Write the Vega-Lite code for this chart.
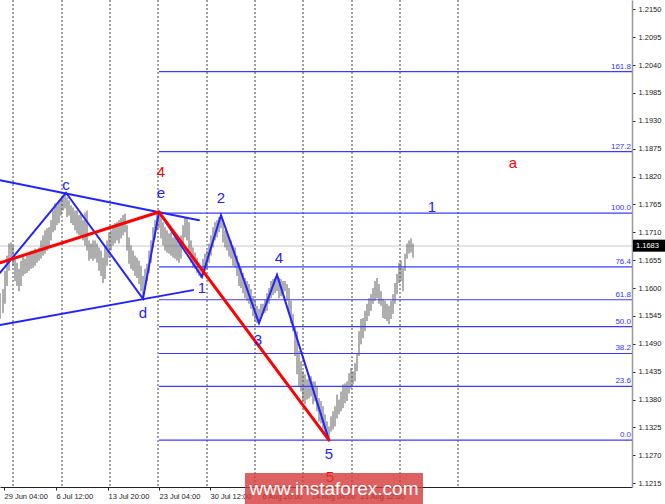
{
  "$schema": "https://vega.github.io/schema/vega-lite/v6.json",
  "width": 632,
  "height": 487,
  "autosize": {"type": "none"},
  "padding": {"left": 0, "top": 0, "right": 33, "bottom": 17},
  "background": "white",
  "config": {
    "view": {"stroke": null},
    "font": "Liberation Sans",
    "axis": {"labelOverlap": false, "labelBound": false, "labelFlush": false, "grid": false}
  },
  "datasets": {
    "bars": [
      {"t":0,"h":1.1590,"l":1.1539},{"t":3,"h":1.1598,"l":1.1551},{"t":5,"h":1.1634,"l":1.1569},{"t":7,"h":1.1664,"l":1.1604},
      {"t":9,"h":1.1688,"l":1.1634},{"t":11,"h":1.1690,"l":1.1658},{"t":13,"h":1.1684,"l":1.1644},{"t":15,"h":1.1660,"l":1.1614},
      {"t":17,"h":1.1650,"l":1.1604},{"t":19,"h":1.1638,"l":1.1594},{"t":21,"h":1.1654,"l":1.1604},{"t":23,"h":1.1664,"l":1.1624},
      {"t":25,"h":1.1658,"l":1.1628},{"t":27,"h":1.1664,"l":1.1630},{"t":29,"h":1.1670,"l":1.1634},{"t":31,"h":1.1674,"l":1.1638},
      {"t":33,"h":1.1674,"l":1.1640},{"t":35,"h":1.1678,"l":1.1644},{"t":37,"h":1.1674,"l":1.1650},{"t":39,"h":1.1680,"l":1.1654},
      {"t":41,"h":1.1694,"l":1.1658},{"t":43,"h":1.1704,"l":1.1664},{"t":45,"h":1.1714,"l":1.1668},{"t":47,"h":1.1718,"l":1.1674},
      {"t":49,"h":1.1720,"l":1.1680},{"t":51,"h":1.1734,"l":1.1694},{"t":53,"h":1.1753,"l":1.1710},{"t":55,"h":1.1767,"l":1.1714},
      {"t":57,"h":1.1763,"l":1.1724},{"t":59,"h":1.1773,"l":1.1728},{"t":61,"h":1.1777,"l":1.1743},{"t":63,"h":1.1783,"l":1.1753},
      {"t":65,"h":1.1787,"l":1.1757},{"t":67,"h":1.1779,"l":1.1740},{"t":69,"h":1.1773,"l":1.1743},{"t":71,"h":1.1763,"l":1.1728},
      {"t":73,"h":1.1759,"l":1.1724},{"t":75,"h":1.1753,"l":1.1714},{"t":77,"h":1.1753,"l":1.1708},{"t":79,"h":1.1744,"l":1.1704},
      {"t":81,"h":1.1747,"l":1.1700},{"t":83,"h":1.1734,"l":1.1694},{"t":85,"h":1.1749,"l":1.1684},{"t":87,"h":1.1753,"l":1.1674},
      {"t":89,"h":1.1694,"l":1.1654},{"t":91,"h":1.1688,"l":1.1658},{"t":93,"h":1.1694,"l":1.1654},{"t":95,"h":1.1694,"l":1.1658},
      {"t":97,"h":1.1688,"l":1.1650},{"t":99,"h":1.1680,"l":1.1634},{"t":101,"h":1.1674,"l":1.1624},{"t":103,"h":1.1660,"l":1.1610},
      {"t":105,"h":1.1684,"l":1.1618},{"t":107,"h":1.1694,"l":1.1644},{"t":109,"h":1.1710,"l":1.1660},{"t":111,"h":1.1714,"l":1.1674},
      {"t":113,"h":1.1724,"l":1.1684},{"t":115,"h":1.1728,"l":1.1688},{"t":117,"h":1.1730,"l":1.1694},{"t":119,"h":1.1734,"l":1.1688},
      {"t":121,"h":1.1738,"l":1.1698},{"t":123,"h":1.1744,"l":1.1704},{"t":125,"h":1.1747,"l":1.1710},{"t":127,"h":1.1724,"l":1.1674},
      {"t":129,"h":1.1700,"l":1.1648},{"t":131,"h":1.1684,"l":1.1638},{"t":133,"h":1.1674,"l":1.1634},{"t":135,"h":1.1664,"l":1.1624},
      {"t":137,"h":1.1660,"l":1.1620},{"t":139,"h":1.1654,"l":1.1608},{"t":141,"h":1.1644,"l":1.1594},{"t":143,"h":1.1624,"l":1.1578},
      {"t":145,"h":1.1638,"l":1.1598},{"t":147,"h":1.1648,"l":1.1614},{"t":149,"h":1.1674,"l":1.1630},{"t":151,"h":1.1694,"l":1.1650},
      {"t":153,"h":1.1720,"l":1.1680},{"t":155,"h":1.1734,"l":1.1698},{"t":157,"h":1.1747,"l":1.1714},{"t":159,"h":1.1749,"l":1.1718},
      {"t":161,"h":1.1744,"l":1.1698},{"t":163,"h":1.1730,"l":1.1684},{"t":165,"h":1.1720,"l":1.1674},{"t":167,"h":1.1714,"l":1.1670},
      {"t":169,"h":1.1708,"l":1.1668},{"t":171,"h":1.1710,"l":1.1664},{"t":173,"h":1.1700,"l":1.1660},{"t":175,"h":1.1700,"l":1.1658},
      {"t":177,"h":1.1694,"l":1.1654},{"t":179,"h":1.1688,"l":1.1650},{"t":181,"h":1.1704,"l":1.1658},{"t":183,"h":1.1724,"l":1.1684},
      {"t":185,"h":1.1740,"l":1.1700},{"t":187,"h":1.1738,"l":1.1694},{"t":189,"h":1.1730,"l":1.1674},{"t":191,"h":1.1694,"l":1.1650},
      {"t":193,"h":1.1680,"l":1.1640},{"t":195,"h":1.1670,"l":1.1638},{"t":197,"h":1.1660,"l":1.1630},{"t":199,"h":1.1650,"l":1.1624},
      {"t":201,"h":1.1644,"l":1.1620},{"t":203,"h":1.1658,"l":1.1626},{"t":205,"h":1.1668,"l":1.1634},{"t":207,"h":1.1674,"l":1.1638},
      {"t":209,"h":1.1688,"l":1.1650},{"t":211,"h":1.1704,"l":1.1664},{"t":213,"h":1.1720,"l":1.1680},{"t":215,"h":1.1730,"l":1.1694},
      {"t":217,"h":1.1734,"l":1.1700},{"t":219,"h":1.1740,"l":1.1710},{"t":221,"h":1.1744,"l":1.1718},{"t":223,"h":1.1730,"l":1.1690},
      {"t":225,"h":1.1714,"l":1.1680},{"t":227,"h":1.1708,"l":1.1674},{"t":229,"h":1.1698,"l":1.1662},{"t":231,"h":1.1694,"l":1.1658},
      {"t":233,"h":1.1684,"l":1.1644},{"t":235,"h":1.1680,"l":1.1640},{"t":237,"h":1.1664,"l":1.1624},{"t":239,"h":1.1650,"l":1.1604},
      {"t":241,"h":1.1640,"l":1.1600},{"t":243,"h":1.1630,"l":1.1590},{"t":245,"h":1.1620,"l":1.1580},{"t":247,"h":1.1614,"l":1.1575},
      {"t":249,"h":1.1608,"l":1.1569},{"t":251,"h":1.1598,"l":1.1559},{"t":253,"h":1.1584,"l":1.1545},{"t":255,"h":1.1575,"l":1.1535},
      {"t":257,"h":1.1565,"l":1.1531},{"t":259,"h":1.1559,"l":1.1529},{"t":261,"h":1.1569,"l":1.1545},{"t":263,"h":1.1569,"l":1.1549},
      {"t":265,"h":1.1578,"l":1.1551},{"t":267,"h":1.1590,"l":1.1555},{"t":269,"h":1.1600,"l":1.1569},{"t":271,"h":1.1614,"l":1.1580},
      {"t":273,"h":1.1618,"l":1.1586},{"t":275,"h":1.1620,"l":1.1590},{"t":277,"h":1.1624,"l":1.1594},{"t":279,"h":1.1620,"l":1.1580},
      {"t":281,"h":1.1618,"l":1.1584},{"t":283,"h":1.1614,"l":1.1590},{"t":285,"h":1.1614,"l":1.1594},{"t":287,"h":1.1608,"l":1.1575},
      {"t":289,"h":1.1600,"l":1.1549},{"t":291,"h":1.1575,"l":1.1531},{"t":293,"h":1.1549,"l":1.1515},{"t":295,"h":1.1525,"l":1.1466},
      {"t":297,"h":1.1515,"l":1.1430},{"t":299,"h":1.1476,"l":1.1406},{"t":301,"h":1.1456,"l":1.1396},{"t":303,"h":1.1436,"l":1.1377},
      {"t":305,"h":1.1430,"l":1.1371},{"t":307,"h":1.1420,"l":1.1380},{"t":309,"h":1.1422,"l":1.1382},{"t":311,"h":1.1426,"l":1.1386},
      {"t":313,"h":1.1416,"l":1.1371},{"t":315,"h":1.1416,"l":1.1377},{"t":317,"h":1.1406,"l":1.1357},{"t":319,"h":1.1383,"l":1.1337},
      {"t":321,"h":1.1377,"l":1.1333},{"t":323,"h":1.1367,"l":1.1321},{"t":325,"h":1.1351,"l":1.1311},{"t":327,"h":1.1337,"l":1.1303},
      {"t":329,"h":1.1327,"l":1.1300},{"t":331,"h":1.1347,"l":1.1317},{"t":333,"h":1.1357,"l":1.1321},{"t":335,"h":1.1367,"l":1.1327},
      {"t":337,"h":1.1390,"l":1.1343},{"t":339,"h":1.1380,"l":1.1351},{"t":341,"h":1.1396,"l":1.1357},{"t":343,"h":1.1410,"l":1.1363},
      {"t":345,"h":1.1412,"l":1.1373},{"t":347,"h":1.1416,"l":1.1377},{"t":349,"h":1.1432,"l":1.1392},{"t":351,"h":1.1442,"l":1.1402},
      {"t":353,"h":1.1436,"l":1.1410},{"t":355,"h":1.1452,"l":1.1416},{"t":357,"h":1.1470,"l":1.1436},{"t":359,"h":1.1515,"l":1.1466},
      {"t":361,"h":1.1539,"l":1.1489},{"t":363,"h":1.1541,"l":1.1501},{"t":365,"h":1.1555,"l":1.1515},{"t":367,"h":1.1569,"l":1.1535},
      {"t":369,"h":1.1580,"l":1.1545},{"t":371,"h":1.1588,"l":1.1555},{"t":373,"h":1.1600,"l":1.1569},{"t":375,"h":1.1614,"l":1.1575},
      {"t":377,"h":1.1620,"l":1.1580},{"t":379,"h":1.1608,"l":1.1569},{"t":381,"h":1.1594,"l":1.1565},{"t":383,"h":1.1578,"l":1.1541},
      {"t":385,"h":1.1575,"l":1.1539},{"t":387,"h":1.1569,"l":1.1535},{"t":389,"h":1.1565,"l":1.1529},{"t":391,"h":1.1575,"l":1.1539},
      {"t":393,"h":1.1588,"l":1.1549},{"t":395,"h":1.1610,"l":1.1569},{"t":397,"h":1.1628,"l":1.1588},{"t":399,"h":1.1650,"l":1.1610},
      {"t":401,"h":1.1654,"l":1.1614},{"t":403,"h":1.1640,"l":1.1594},{"t":405,"h":1.1668,"l":1.1634},{"t":407,"h":1.1688,"l":1.1658},
      {"t":409,"h":1.1694,"l":1.1668},{"t":411,"h":1.1698,"l":1.1670},{"t":413,"h":1.1688,"l":1.1660}
    ],
    "seps": [
      {"t":13},{"t":62},{"t":110},{"t":158},{"t":207},{"t":255},{"t":303},{"t":352},{"t":400},{"t":458}
    ],
    "last": [{"p":1.1683,"txt":"1.1683"}],
    "fib": [
      {"lvl":"0.0","p":1.1300,"t1":159,"t2":632},
      {"lvl":"23.6","p":1.1406,"t1":159,"t2":632},
      {"lvl":"38.2","p":1.1471,"t1":159,"t2":632},
      {"lvl":"50.0","p":1.1524,"t1":159,"t2":632},
      {"lvl":"61.8","p":1.1577,"t1":159,"t2":632},
      {"lvl":"76.4","p":1.1642,"t1":159,"t2":632},
      {"lvl":"100.0","p":1.1748,"t1":159,"t2":632},
      {"lvl":"127.2","p":1.1869,"t1":159,"t2":632},
      {"lvl":"161.8","p":1.2027,"t1":159,"t2":632}
    ],
    "waves": [
      {"g":"upper","deg":"minor","k":0,"t":0,"p":1.1813},
      {"g":"upper","deg":"minor","k":1,"t":199,"p":1.1734},
      {"g":"lower","deg":"minor","k":0,"t":0,"p":1.1527},
      {"g":"lower","deg":"minor","k":1,"t":193,"p":1.1596},
      {"g":"abcde","deg":"minor","k":0,"t":0,"p":1.1630},
      {"g":"abcde","deg":"minor","k":1,"t":66,"p":1.1788},
      {"g":"abcde","deg":"minor","k":2,"t":143,"p":1.1579},
      {"g":"abcde","deg":"minor","k":3,"t":159,"p":1.1750},
      {"g":"imp","deg":"minor","k":0,"t":159,"p":1.1750},
      {"g":"imp","deg":"minor","k":1,"t":202,"p":1.1622},
      {"g":"imp","deg":"minor","k":2,"t":221,"p":1.1744},
      {"g":"imp","deg":"minor","k":3,"t":259,"p":1.1531},
      {"g":"imp","deg":"minor","k":4,"t":277,"p":1.1626},
      {"g":"imp","deg":"minor","k":5,"t":329,"p":1.1300},
      {"g":"r1","deg":"major","k":0,"t":0,"p":1.1650},
      {"g":"r1","deg":"major","k":1,"t":159,"p":1.1750},
      {"g":"r2","deg":"major","k":0,"t":159,"p":1.1750},
      {"g":"r2","deg":"major","k":1,"t":329,"p":1.1300}
    ],
    "labels": [
      {"lab":"c","t":66,"p":1.1803,"deg":"minor"},
      {"lab":"e","t":161,"p":1.1788,"deg":"minor"},
      {"lab":"4","t":161,"p":1.1829,"deg":"major"},
      {"lab":"d","t":143,"p":1.1551,"deg":"minor"},
      {"lab":"1","t":202,"p":1.1600,"deg":"minor"},
      {"lab":"2","t":221,"p":1.1778,"deg":"minor"},
      {"lab":"3","t":258,"p":1.1498,"deg":"minor"},
      {"lab":"4","t":279,"p":1.1659,"deg":"minor"},
      {"lab":"5","t":329,"p":1.1273,"deg":"minor"},
      {"lab":"5","t":330,"p":1.1227,"deg":"major"},
      {"lab":"1","t":432,"p":1.1760,"deg":"minor"},
      {"lab":"a","t":513,"p":1.1847,"deg":"major"}
    ],
    "mark": [{"txt":"www.instaforex.com"}]
  },
  "layer": [
    {
      "data": {"name": "seps"},
      "mark": {"type": "rule", "color": "#444444", "strokeWidth": 1, "strokeDash": [2, 2]},
      "encoding": {"x": {"field": "t", "type": "quantitative", "title": null}}
    },
    {
      "data": {"name": "last"},
      "mark": {"type": "rule", "color": "#c8c8c8", "strokeWidth": 1},
      "encoding": {"y": {"field": "p", "type": "quantitative", "title": null}}
    },
    {
      "data": {"name": "bars"},
      "mark": {"type": "rule", "color": "#5e5e5e", "strokeWidth": 1},
      "encoding": {
        "x": {
          "field": "t", "type": "quantitative", "title": null,
          "scale": {"domain": [0, 632], "nice": false, "zero": false},
          "axis": {
            "values": [4, 56, 108, 159, 210, 262, 311, 360],
            "labelExpr": "['29 Jun 04:00','6 Jul 12:00','13 Jul 20:00','23 Jul 04:00','30 Jul 12:00','6 Aug 20:00','14 Aug 04:00','21 Aug 12:00'][indexof([4,56,108,159,210,262,311,360], datum.value)]",
            "labelAlign": "left", "labelFontSize": 7.5, "labelColor": "#222222", "labelFont": "Liberation Sans",
            "labelPadding": 2, "labelFlush": false, "labelOverlap": false, "tickCount": 20,
            "tickSize": 3, "tickColor": "#222222", "domainColor": "#222222", "grid": false
          }
        },
        "y": {
          "field": "h", "type": "quantitative", "title": null,
          "scale": {"domain": [1.12076, 1.21683], "nice": false, "zero": false},
          "axis": {
            "orient": "right",
            "values": [1.2150, 1.2095, 1.2040, 1.1985, 1.1930, 1.1875, 1.1820, 1.1765, 1.1710, 1.1655, 1.1600, 1.1545, 1.1490, 1.1435, 1.1380, 1.1325, 1.1270, 1.1215],
            "tickCount": 30,
            "format": ".4f", "labelFontSize": 7.5, "labelColor": "#222222", "labelFont": "Liberation Sans",
            "labelPadding": 3, "labelOverlap": false, "labelBound": false, "tickSize": 3, "tickColor": "#222222",
            "domainColor": "#999999", "domainWidth": 1.5, "grid": false
          }
        },
        "y2": {"field": "l"}
      }
    },
    {
      "data": {"name": "fib"},
      "mark": {"type": "rule", "color": "#3c3cff", "strokeWidth": 1.2},
      "encoding": {
        "x": {"field": "t1", "type": "quantitative", "title": null},
        "x2": {"field": "t2"},
        "y": {"field": "p", "type": "quantitative", "title": null}
      }
    },
    {
      "data": {"name": "fib"},
      "mark": {"type": "text", "align": "right", "baseline": "bottom", "dx": -1, "dy": -1, "fontSize": 8, "color": "#3333ff"},
      "encoding": {
        "x": {"field": "t2", "type": "quantitative", "title": null},
        "y": {"field": "p", "type": "quantitative", "title": null},
        "text": {"field": "lvl"}
      }
    },
    {
      "data": {"name": "waves"},
      "mark": {"type": "line", "strokeCap": "round"},
      "encoding": {
        "x": {"field": "t", "type": "quantitative", "title": null},
        "y": {"field": "p", "type": "quantitative", "title": null},
        "detail": {"field": "g"},
        "order": {"field": "k"},
        "color": {"field": "deg", "type": "nominal", "scale": {"domain": ["major", "minor"], "range": ["#ff0000", "#2323ff"]}, "legend": null},
        "strokeWidth": {"field": "deg", "type": "nominal", "scale": {"domain": ["major", "minor"], "range": [3, 2]}, "legend": null}
      }
    },
    {
      "data": {"name": "labels"},
      "mark": {"type": "text", "fontSize": 15, "align": "center", "baseline": "middle", "clip": false},
      "encoding": {
        "x": {"field": "t", "type": "quantitative", "title": null},
        "y": {"field": "p", "type": "quantitative", "title": null},
        "text": {"field": "lab"},
        "color": {"field": "deg", "type": "nominal", "legend": null}
      }
    },
    {
      "data": {"name": "last"},
      "mark": {"type": "rect", "color": "black", "clip": false},
      "encoding": {
        "x": {"datum": 633},
        "x2": {"datum": 665},
        "y": {"datum": 1.16955},
        "y2": {"datum": 1.16718}
      }
    },
    {
      "data": {"name": "last"},
      "mark": {"type": "text", "color": "white", "align": "left", "baseline": "middle", "fontSize": 7.5, "clip": false},
      "encoding": {
        "x": {"datum": 636},
        "y": {"field": "p", "type": "quantitative", "title": null},
        "text": {"field": "txt"}
      }
    },
    {
      "data": {"name": "mark"},
      "mark": {"type": "rect", "color": "#d63a3a", "opacity": 0.8, "clip": false},
      "encoding": {
        "x": {"datum": 245},
        "x2": {"datum": 423},
        "y": {"datum": 1.1235},
        "y2": {"datum": 1.1174}
      }
    },
    {
      "data": {"name": "mark"},
      "mark": {"type": "text", "color": "white", "align": "center", "baseline": "middle", "fontSize": 19, "clip": false},
      "encoding": {
        "x": {"datum": 334},
        "y": {"datum": 1.12037},
        "text": {"field": "txt"}
      }
    }
  ]
}
